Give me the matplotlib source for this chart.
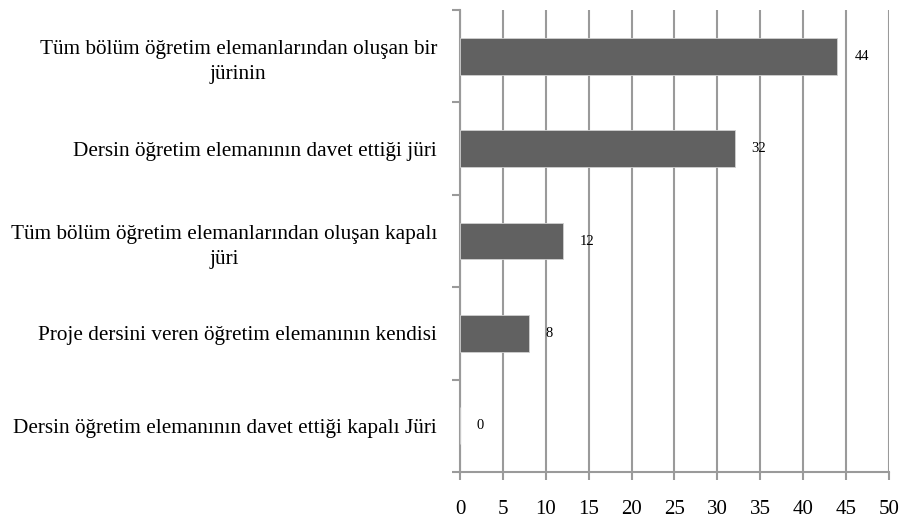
import matplotlib.pyplot as plt
import numpy as np

categories = [
    "Tüm bölüm öğretim elemanlarından oluşan bir\njürinin",
    "Dersin öğretim elemanının davet ettiği jüri",
    "Tüm bölüm öğretim elemanlarından oluşan kapalı\njüri",
    "Proje dersini veren öğretim elemanının kendisi",
    "Dersin öğretim elemanının davet ettiği kapalı Jüri",
]
values = [44, 32, 12, 8, 0]
x_ticks = [0, 5, 10, 15, 20, 25, 30, 35, 40, 45, 50]

plt.rcParams['font.family'] = ['Liberation Serif', 'DejaVu Serif']

fig = plt.figure(figsize=(9.06, 5.22), dpi=100)
ax = fig.add_axes([0.5077, 0.0958, 0.9812 - 0.5077, 0.9808 - 0.0958])

ypos = np.arange(len(categories))
ax.barh(ypos, values, height=0.4, color='#616161', edgecolor='#d0d0d0', linewidth=0.6, zorder=3)

for y, v in zip(ypos, values):
    ax.annotate(str(v), (v, y), xytext=(17, 0), textcoords='offset pixels',
                ha='left', va='center', fontsize=10.5, zorder=4)

ax.set_xlim(0, 50)
ax.set_ylim(len(categories) - 0.5, -0.5)
ax.set_xticks(x_ticks)
ax.set_xticklabels([str(t) for t in x_ticks], fontsize=15)
ax.xaxis.grid(True, color='#9a9a9a', linewidth=1.5, zorder=0)

# boundaries as major ticks, labels at centers as minor ticks
ax.set_yticks(np.arange(-0.5, len(categories), 1.0))
ax.set_yticklabels([])
ax.set_yticks(ypos, minor=True)
ax.set_yticklabels(categories, minor=True, fontsize=15.3, multialignment='center',
                   linespacing=1.45)
ax.tick_params(axis='y', which='minor', length=0, pad=16.5)
ax.tick_params(axis='y', which='major', length=6, color='#9a9a9a', width=1.5)
ax.tick_params(axis='x', length=6, color='#9a9a9a', width=1.5, pad=14)

for s in ['top', 'right']:
    ax.spines[s].set_visible(False)
for s in ['left', 'bottom']:
    ax.spines[s].set_color('#9a9a9a')
    ax.spines[s].set_linewidth(1.5)

fig.savefig('out.png', dpi=100)
